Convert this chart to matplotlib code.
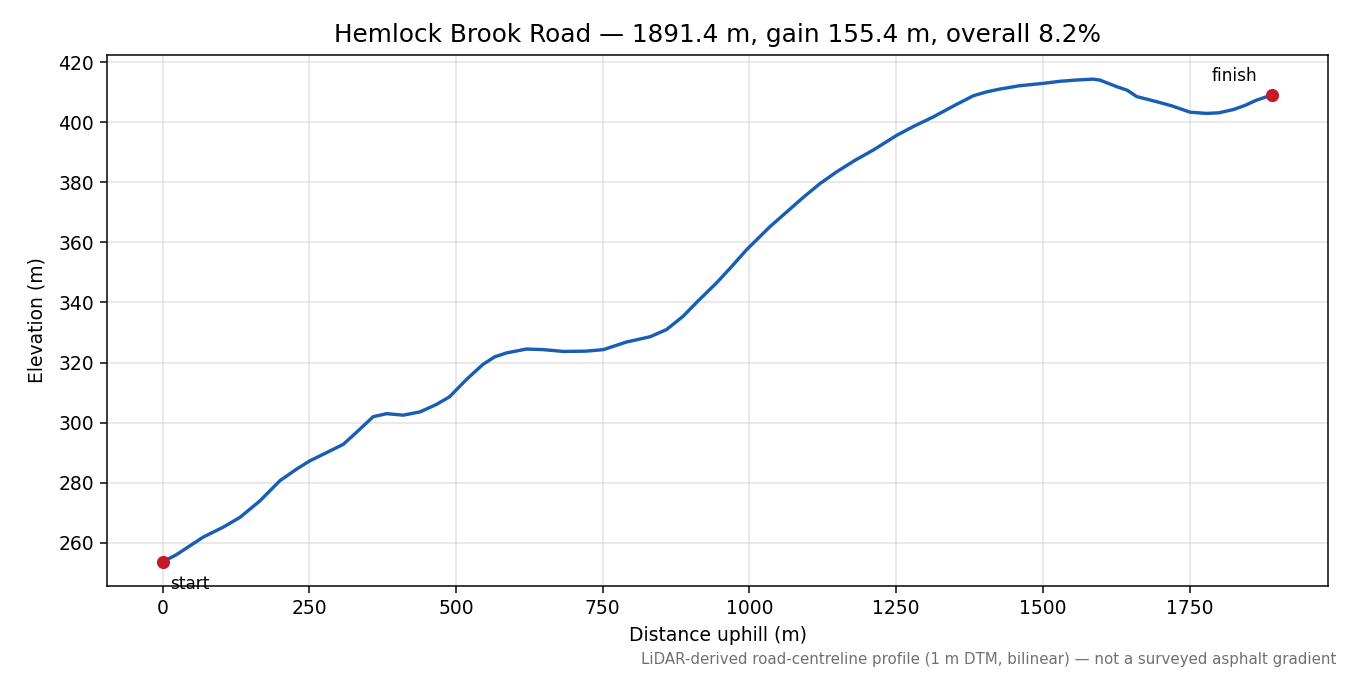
import matplotlib
matplotlib.use("Agg")
import matplotlib.pyplot as plt

# profile (distance along road, elevation)
dist = [0, 23, 52, 69, 103, 132, 166, 200, 228, 251, 274, 308, 330, 359, 382,
        410, 439, 467, 489, 518, 546, 566, 586, 620, 649, 683, 722, 751, 790,
        831, 859, 887, 912, 944, 970, 995, 1035, 1060, 1092, 1120, 1149, 1180,
        1211, 1251, 1280, 1313, 1350, 1382, 1405, 1427, 1460, 1501, 1530, 1557,
        1586, 1597, 1626, 1644, 1660, 1694, 1720, 1751, 1779, 1800, 1825, 1845,
        1864, 1891.4]
elev = [253.7, 256.0, 259.7, 261.9, 265.2, 268.5, 274.0, 280.7, 284.5, 287.3,
        289.5, 292.8, 296.7, 302.0, 303.0, 302.5, 303.6, 306.1, 308.6, 314.4,
        319.4, 321.9, 323.2, 324.5, 324.3, 323.7, 323.8, 324.3, 326.8, 328.6,
        331.0, 335.4, 340.4, 346.5, 352.0, 357.5, 365.2, 369.5, 375.0, 379.5,
        383.5, 387.3, 390.7, 395.6, 398.6, 401.7, 405.6, 408.8, 410.1, 411.0,
        412.1, 412.9, 413.6, 414.0, 414.3, 414.0, 411.8, 410.6, 408.5, 406.8,
        405.4, 403.3, 402.9, 403.1, 404.2, 405.6, 407.3, 409.1]

name = "Hemlock Brook Road"
length = 1891.4
gain = 155.4
grade = 8.2

fig = plt.figure(figsize=(10, 5), dpi=135)
ax = fig.add_subplot(111)
fig.subplots_adjust(left=0.0793, right=0.9837, top=0.9185, bottom=0.1319)

ax.plot(dist, elev, color="#1a5db4", lw=1.8, zorder=3)
ax.scatter([dist[0], dist[-1]], [elev[0], elev[-1]], color="#c11b28", s=36, zorder=4)
ax.annotate("start", (dist[0], elev[0]), xytext=(4, -12), textcoords="offset points",
            fontsize=9, ha="left", va="center")
ax.annotate("finish", (dist[-1], elev[-1]), xytext=(-8, 10), textcoords="offset points",
            fontsize=9, ha="right", va="center")

ax.grid(True, color="#d0d0d0", alpha=0.6, lw=0.8)
ax.set_xlabel("Distance uphill (m)")
ax.set_ylabel("Elevation (m)", labelpad=6)
ax.set_title(f"{name} \u2014 {length} m, gain {gain} m, overall {grade}%", fontsize=13.2, pad=7)

fig.text(0.99, 0.012, "LiDAR-derived road-centreline profile (1 m DTM, bilinear) \u2014 not a surveyed asphalt gradient",
         ha="right", va="bottom", fontsize=8, color="#707070")

fig.savefig("out.png", dpi=135)
